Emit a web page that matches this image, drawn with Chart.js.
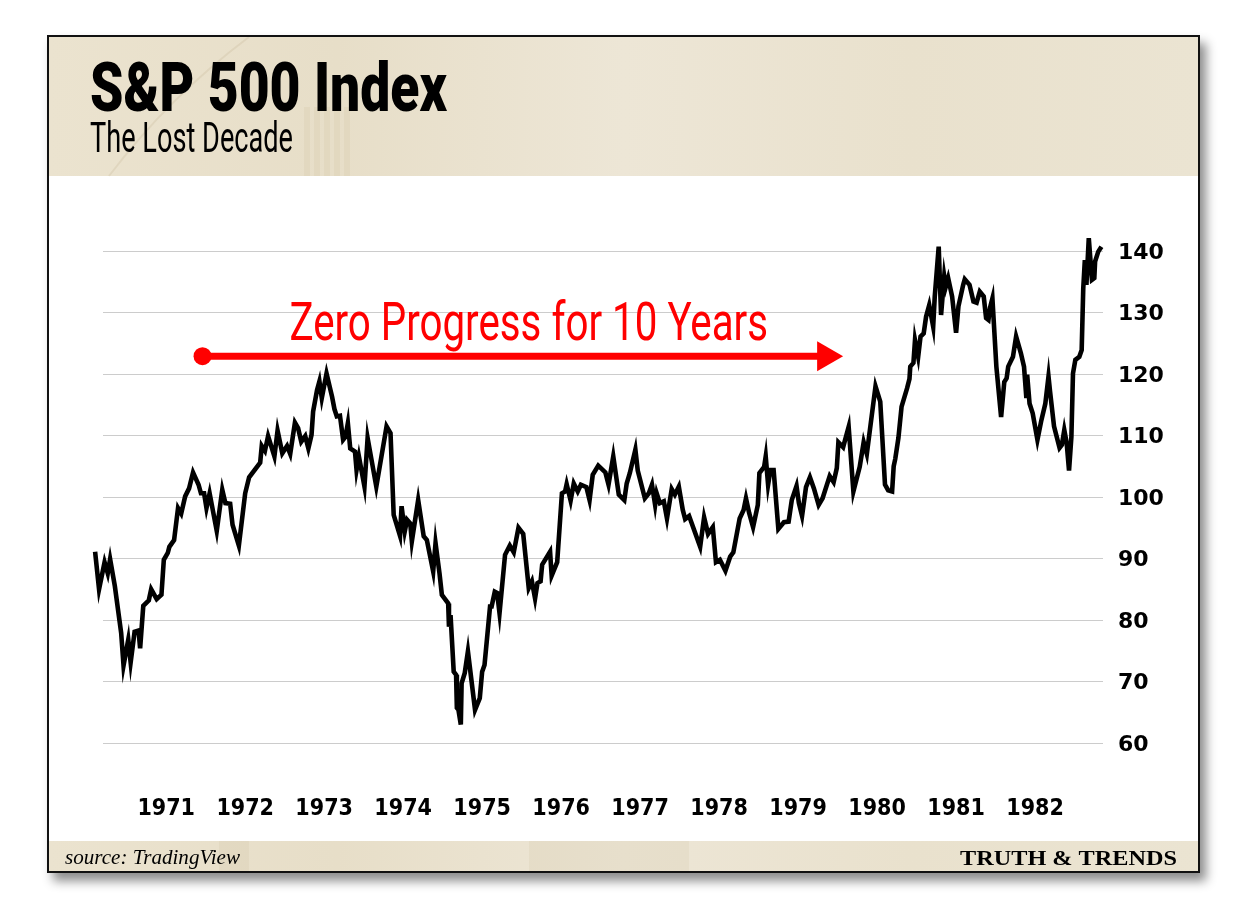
<!DOCTYPE html>
<html>
<head>
<meta charset="utf-8">
<script src="https://cdn.jsdelivr.net/npm/chart.js@4.4.1/dist/chart.umd.min.js"></script>
<style>
  html, body { margin: 0; background: #fff; }
  #frame {
    position: absolute; left: 47px; top: 35px;
    width: 1149px; height: 834px;
    border: 2px solid #111;
    box-shadow: 6px 8px 10px rgba(0, 0, 0, 0.45);
    background: #fff;
  }
  #frame canvas { display: block; }
</style>
</head>
<body>
<div id="frame"><canvas id="myChart" width="1149" height="834"></canvas></div>
<script>
// weekly S&P 500 closes (decimal years)
let dates = [
  1970.10, 1970.15, 1970.22, 1970.26, 1970.29, 1970.35, 1970.43, 1970.46, 1970.52, 1970.55,
  1970.60, 1970.65, 1970.67, 1970.71, 1970.78, 1970.81, 1970.88, 1970.94, 1970.97,
  1971.02, 1971.04, 1971.10, 1971.15, 1971.19, 1971.24, 1971.29, 1971.34, 1971.41, 1971.44,
  1971.48, 1971.51, 1971.55, 1971.64, 1971.71, 1971.75, 1971.81, 1971.84, 1971.92,
  1972.00, 1972.05, 1972.19, 1972.21, 1972.25, 1972.29, 1972.37, 1972.41, 1972.47, 1972.53,
  1972.57, 1972.63, 1972.67, 1972.71,
  1972.76, 1972.80, 1972.84, 1972.86, 1972.91, 1972.94, 1972.97,
  1973.03, 1973.10, 1973.13, 1973.16, 1973.20, 1973.24, 1973.27, 1973.30, 1973.33, 1973.39,
  1973.41, 1973.44, 1973.51, 1973.55, 1973.66, 1973.79, 1973.84, 1973.88, 1973.96, 1973.98,
  1974.02, 1974.05, 1974.09, 1974.11, 1974.19, 1974.26, 1974.30, 1974.38, 1974.41, 1974.46,
  1974.49, 1974.57, 1974.58, 1974.60, 1974.64, 1974.67, 1974.68, 1974.70, 1974.73, 1974.74,
  1974.78, 1974.82, 1974.91, 1974.97,
  1975.00, 1975.03, 1975.10, 1975.12, 1975.16, 1975.19, 1975.22, 1975.29,
  1975.35, 1975.40, 1975.46, 1975.52, 1975.59, 1975.63, 1975.67, 1975.70, 1975.74, 1975.76,
  1975.86, 1975.88, 1975.95,
  1976.01, 1976.05, 1976.07, 1976.12, 1976.16, 1976.21, 1976.25, 1976.32, 1976.36, 1976.40,
  1976.47, 1976.56, 1976.60, 1976.66, 1976.73, 1976.80, 1976.83, 1976.87, 1976.94, 1976.97,
  1977.06, 1977.11, 1977.15, 1977.19, 1977.21, 1977.25, 1977.30, 1977.34, 1977.40, 1977.44,
  1977.49, 1977.54, 1977.57, 1977.62, 1977.76, 1977.81, 1977.86,
  1977.92, 1977.96,
  1978.01, 1978.08, 1978.14, 1978.18, 1978.26, 1978.31, 1978.34, 1978.38, 1978.43, 1978.49,
  1978.51, 1978.57, 1978.59, 1978.62, 1978.65, 1978.69, 1978.75, 1978.82, 1978.88, 1978.92,
  1978.98,
  1979.01, 1979.05, 1979.10, 1979.15, 1979.20, 1979.26, 1979.31, 1979.40, 1979.45, 1979.49,
  1979.51, 1979.57, 1979.64, 1979.70, 1979.78, 1979.83, 1979.87, 1979.98,
  1980.04, 1980.10, 1980.14, 1980.19, 1980.21, 1980.23, 1980.27,
  1980.31, 1980.38, 1980.41, 1980.42, 1980.46, 1980.48, 1980.52, 1980.55, 1980.59, 1980.62,
  1980.66, 1980.71, 1980.73, 1980.78, 1980.81, 1980.85, 1980.87, 1980.90, 1980.95,
  1981.00, 1981.03, 1981.09, 1981.11, 1981.17, 1981.22, 1981.26, 1981.30, 1981.35, 1981.38,
  1981.41, 1981.43, 1981.46, 1981.51, 1981.57, 1981.61, 1981.64, 1981.66, 1981.72, 1981.76,
  1981.82, 1981.86, 1981.89, 1981.90, 1981.93, 1981.97,
  1982.03, 1982.08, 1982.13, 1982.17, 1982.19, 1982.24, 1982.31, 1982.34, 1982.37, 1982.40,
  1982.43, 1982.46, 1982.48, 1982.51, 1982.56, 1982.59, 1982.61, 1982.63, 1982.65, 1982.68,
  1982.72, 1982.75, 1982.76, 1982.80, 1982.84
];
let closes = [
  91.1, 85.0, 89.4, 87.6, 89.9, 85.5, 77.9, 72.6, 76.8, 73.1,
  78.1, 78.3, 75.4, 82.3, 83.2, 85.0, 83.4, 84.1, 89.8,
  90.9, 91.9, 93.0, 98.2, 97.3, 100.1, 101.4, 104.0, 102.0, 100.6,
  100.6, 98.2, 100.6, 94.5, 101.2, 99.0, 98.9, 95.5, 92.1,
  100.6, 103.2, 105.6, 108.3, 107.5, 109.9, 106.6, 110.8, 107.1, 108.3,
  107.0, 112.1, 111.2, 109.0,
  109.9, 107.9, 110.1, 113.9, 117.4, 118.8, 116.1,
  120.1, 116.3, 114.3, 113.1, 113.2, 109.3, 109.8, 112.0, 107.9, 107.4,
  104.4, 106.6, 101.7, 109.6, 101.7, 111.5, 110.4, 97.1, 93.7, 98.5,
  94.4, 96.3, 95.7, 92.8, 99.5, 93.6, 93.0, 87.9, 92.5, 87.6,
  84.1, 82.7, 78.9, 80.8, 71.6, 71.1, 65.7, 65.4, 63.0, 69.7,
  71.4, 74.9, 65.4, 67.3,
  71.6, 72.7, 82.2, 82.2, 84.6, 84.4, 81.1, 90.6,
  92.1, 91.0, 95.0, 94.0, 85.2, 86.3, 83.5, 86.0, 86.3, 89.0,
  91.1, 87.2, 89.4,
  100.6, 100.9, 102.1, 99.4, 102.2, 100.9, 102.0, 101.6, 99.5, 103.6,
  105.1, 104.0, 102.0, 106.6, 100.4, 99.5, 102.2, 103.9, 107.7, 104.3,
  99.8, 100.6, 102.0, 98.7, 100.6, 99.0, 99.3, 96.5, 101.3, 100.4,
  101.7, 97.9, 96.4, 96.9, 91.9, 96.7, 94.0,
  95.1, 89.4,
  89.8, 88.0, 90.3, 91.0, 96.5, 97.9, 99.8, 97.4, 95.1, 98.7,
  103.9, 104.9, 106.6, 102.0, 104.4, 104.4, 94.8, 95.9, 96.0, 99.5,
  101.8,
  99.0, 96.9, 101.6, 103.2, 101.4, 98.7, 99.8, 103.4, 102.4, 104.7,
  108.9, 108.1, 111.4, 100.9, 104.9, 108.9, 107.0, 118.0,
  115.5, 102.0, 101.1, 100.9, 105.0, 106.2, 109.6,
  114.7, 117.7, 119.2, 121.2, 121.8, 125.5, 122.8, 126.1, 126.6, 129.3,
  131.2, 127.7, 132.6, 140.7, 129.6, 135.9, 134.2, 135.6, 132.6,
  126.7, 131.0, 134.5, 135.4, 134.5, 131.8, 131.6, 133.4, 132.6, 129.1,
  128.8, 130.8, 132.3, 121.2, 113.0, 118.7, 119.3, 121.2, 122.8, 126.1,
  123.4, 121.2, 116.1, 119.9, 115.2, 113.6,
  109.3, 112.5, 115.2, 119.6, 117.1, 111.5, 108.0, 108.5, 110.9, 108.8,
  104.3, 109.8, 120.1, 122.3, 122.8, 123.9, 133.9, 138.5, 134.5, 142.1,
  135.3, 135.6, 138.3, 139.9, 140.7
];
let yearTicks = [1971, 1972, 1973, 1974, 1975, 1976, 1977, 1978, 1979, 1980, 1981, 1982];
let priceTicks = [60, 70, 80, 90, 100, 110, 120, 130, 140];
let xStart = 1970.20;
let xEnd = 1982.86;

// red annotation: from / to (year), level, text span
let arrowFrom = [1971.46, 122.9];
let arrowTo = [1979.57, 122.9];
let noteText = 'Zero Progress for 10 Years';
let noteSpan = [1972.56, 1978.62, 125.5];

function fitText(ctx, text, x, y, font, width) {
  ctx.font = font;
  let w = ctx.measureText(text).width;
  ctx.save();
  ctx.translate(x, y);
  ctx.scale(width / w, 1);
  ctx.textAlign = 'left';
  ctx.textBaseline = 'alphabetic';
  ctx.fillText(text, 0, 0);
  ctx.restore();
}

const decor = {
  id: 'decor',
  beforeDraw(chart) {
    let ctx = chart.ctx;
    let w = chart.width;
    ctx.save();
    ctx.fillStyle = '#fff';
    ctx.fillRect(0, 0, w, chart.height);

    // beige header and footer bands
    let g = ctx.createLinearGradient(0, 0, w, 0);
    g.addColorStop(0, '#ebe3cf');
    g.addColorStop(0.25, '#e7dec8');
    g.addColorStop(0.5, '#ede6d6');
    g.addColorStop(0.75, '#e9e1cd');
    g.addColorStop(1, '#ebe4d2');
    ctx.fillStyle = g;
    ctx.fillRect(0, 0, w, 139);
    ctx.fillRect(0, 804, w, 30);

    // faint background motif
    ctx.fillStyle = 'rgba(190, 170, 130, 0.12)';
    for (let i = 0; i < 5; i++) ctx.fillRect(255 + i * 10, 70, 6, 69);
    ctx.fillRect(170, 804, 30, 30);
    ctx.fillRect(480, 804, 160, 30);
    ctx.strokeStyle = 'rgba(170, 150, 110, 0.15)';
    ctx.lineWidth = 2;
    ctx.beginPath();
    ctx.moveTo(60, 139); ctx.quadraticCurveTo(120, 60, 200, 0);
    ctx.stroke();

    ctx.fillStyle = '#000';
    fitText(ctx, 'S&P 500 Index', 41, 74, '900 69px Roboto', 357);
    fitText(ctx, 'The Lost Decade', 41, 115, '400 42px Roboto', 203);
    fitText(ctx, 'source: TradingView', 16, 827, 'italic 20px "Liberation Serif"', 175);
    fitText(ctx, 'TRUTH & TRENDS', 911, 828, 'bold 22px "Liberation Serif"', 217);
    ctx.restore();
  },
  afterDatasetsDraw(chart) {
    let ctx = chart.ctx;
    let x = chart.scales.x, y = chart.scales.y;
    let x0 = x.getPixelForValue(arrowFrom[0]);
    let x1 = x.getPixelForValue(arrowTo[0]);
    let ay = y.getPixelForValue(arrowFrom[1]);
    ctx.save();
    ctx.fillStyle = '#ff0000';
    ctx.strokeStyle = '#ff0000';
    ctx.lineWidth = 7;
    ctx.beginPath();
    ctx.moveTo(x0, ay);
    ctx.lineTo(x1 - 24, ay);
    ctx.stroke();
    ctx.beginPath();
    ctx.arc(x0, ay, 9, 0, Math.PI * 2);
    ctx.fill();
    ctx.beginPath();
    ctx.moveTo(x1, ay);
    ctx.lineTo(x1 - 26, ay - 15);
    ctx.lineTo(x1 - 26, ay + 15);
    ctx.closePath();
    ctx.fill();

    let tx0 = x.getPixelForValue(noteSpan[0]);
    let tx1 = x.getPixelForValue(noteSpan[1]);
    fitText(ctx, noteText, tx0, y.getPixelForValue(noteSpan[2]), '400 53px Roboto', tx1 - tx0);
    ctx.restore();
  }
};

let ctx = document.getElementById('myChart').getContext('2d');

let myChart = new Chart(ctx, {
  type: 'line',
  data: {
    datasets: [{
      data: dates.map((d, i) => ({ x: d, y: closes[i] })),
      borderColor: '#000',
      borderWidth: 4.6,
      pointRadius: 0,
      tension: 0,
      fill: false,
      clip: false
    }]
  },
  options: {
    responsive: false,
    animation: false,
    layout: {
      padding: { left: 54, top: 214, right: 25, bottom: 43 }
    },
    plugins: {
      legend: { display: false },
      tooltip: { enabled: false }
    },
    scales: {
      x: {
        type: 'linear',
        bounds: 'data',
        afterDataLimits: (s) => { s.min = xStart; s.max = xEnd; },
        afterBuildTicks: (s) => { s.ticks = yearTicks.map(v => ({ value: v })); },
        afterFit: (s) => { s.height = 85; },
        grid: { display: false },
        border: { display: false },
        ticks: {
          autoSkip: false,
          maxRotation: 0,
          padding: 44,
          color: '#000',
          font: { family: '"DejaVu Sans Condensed", "DejaVu Sans"', weight: 'bold', size: 23 },
          callback: (v) => String(v)
        }
      },
      y: {
        position: 'right',
        min: 60,
        max: 140,
        afterBuildTicks: (s) => { s.ticks = priceTicks.map(v => ({ value: v })); },
        afterFit: (s) => { s.width = 70; },
        grid: { color: '#cccccc', lineWidth: 1, drawTicks: false, tickLength: 0 },
        border: { display: false },
        ticks: {
          padding: 15,
          labelOffset: 2,
          color: '#000',
          font: { family: '"DejaVu Sans"', weight: 'bold', size: 22 },
          callback: (v) => String(v)
        }
      }
    }
  },
  plugins: [decor]
});
</script>
</body>
</html>
